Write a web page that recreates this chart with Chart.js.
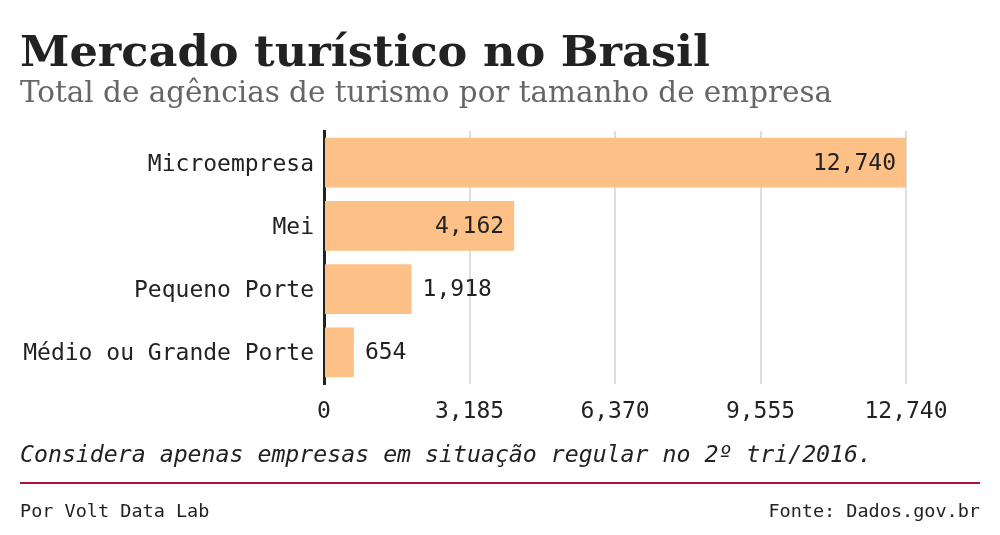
<!DOCTYPE html>
<html><head><meta charset="utf-8">
<script src="https://cdn.jsdelivr.net/npm/chart.js@4.4.1/dist/chart.umd.min.js"></script>
<style>
html,body{margin:0;padding:0;background:#fff;width:1000px;height:535px;overflow:hidden;}
#wrap{position:relative;width:1000px;height:535px;}
#c{position:absolute;left:0;top:0;}
#ov{position:absolute;left:0;top:0;pointer-events:none;}
</style></head><body>
<div id="wrap">
<canvas id="c" width="1000" height="535"></canvas>
<svg id="ov" width="1000" height="535" xmlns="http://www.w3.org/2000/svg">
  <text x="20" y="66" font-family="DejaVu Serif" font-weight="bold" font-size="43" fill="#222" textLength="690" lengthAdjust="spacingAndGlyphs">Mercado turístico no Brasil</text>
  <text x="20" y="102" font-family="DejaVu Serif" font-size="29" fill="#666" textLength="812" lengthAdjust="spacingAndGlyphs">Total de agências de turismo por tamanho de empresa</text>
  <text x="20" y="462" font-family="DejaVu Sans Mono" font-style="italic" font-size="23" fill="#222" textLength="852" lengthAdjust="spacingAndGlyphs">Considera apenas empresas em situação regular no 2º tri/2016.</text>
  <rect x="20" y="482" width="960" height="2" fill="#ad1038"/>
  <text x="20" y="517" font-family="DejaVu Sans Mono" font-size="18.5" fill="#222">Por Volt Data Lab</text>
  <text x="980" y="517" text-anchor="end" font-family="DejaVu Sans Mono" font-size="18.5" fill="#222">Fonte: Dados.gov.br</text>
</svg>
</div>
<script>
const categories = ["Microempresa", "Mei", "Pequeno Porte", "Médio ou Grande Porte"];
const values = [12740, 4162, 1918, 654];
const tickValues = [0, 3185, 6370, 9555, 12740];

const MONO = "'DejaVu Sans Mono', monospace";
const fmt = v => v.toLocaleString('en-US');

const labelPlugin = {
  id: 'barLabels',
  afterDatasetsDraw(chart) {
    const ctx = chart.ctx;
    const meta = chart.getDatasetMeta(0);
    ctx.save();
    ctx.font = "23px " + MONO;
    ctx.fillStyle = '#222';
    ctx.textBaseline = 'middle';
    meta.data.forEach((bar, i) => {
      const txt = fmt(values[i]);
      const w = ctx.measureText(txt).width;
      const bw = bar.x - bar.base;
      if (bw > w + 30) {
        ctx.textAlign = 'right';
        ctx.fillText(txt, bar.x - 10, bar.y + 1);
      } else {
        ctx.textAlign = 'left';
        ctx.fillText(txt, bar.x + 11, bar.y + 1);
      }
    });
    ctx.restore();
  }
};

new Chart(document.getElementById('c'), {
  type: 'bar',
  data: {
    labels: categories,
    datasets: [{
      data: values,
      backgroundColor: '#fdc086',
      borderWidth: 0,
      barPercentage: 0.79,
      categoryPercentage: 1
    }]
  },
  options: {
    indexAxis: 'y',
    responsive: false,
    animation: false,
    events: [],
    layout: { padding: { top: 131, left: 20, right: 94, bottom: 0 } },
    plugins: { legend: { display: false }, tooltip: { enabled: false } },
    scales: {
      x: {
        min: 0, max: 12740,
        afterBuildTicks: s => { s.ticks = tickValues.map(v => ({ value: v })); },
        afterFit: s => { s.height = 151; },
        grid: { color: '#dddddd', lineWidth: 2, drawTicks: false },
        border: { display: false },
        ticks: {
          color: '#222',
          font: { family: MONO, size: 23 },
          padding: 14,
          maxRotation: 0,
          callback: v => fmt(v)
        }
      },
      y: {
        z: 1,
        afterFit: s => { s.width = 304; },
        grid: { display: false, drawTicks: false },
        border: { display: true, color: '#222', width: 3 },
        ticks: {
          color: '#222',
          font: { family: MONO, size: 23 },
          padding: 10,
          labelOffset: 2
        }
      }
    }
  },
  plugins: [labelPlugin]
});
</script>
</body></html>
